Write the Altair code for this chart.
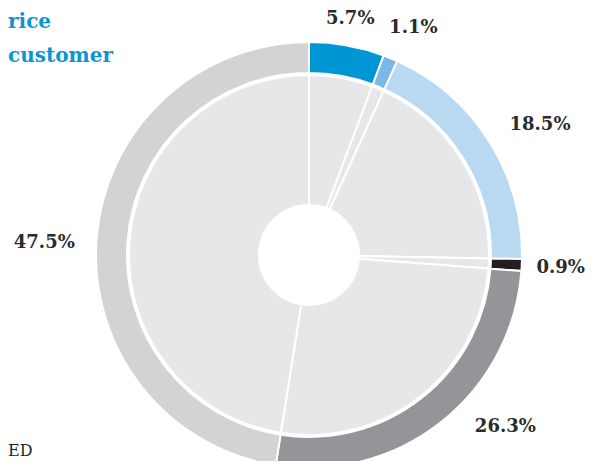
import altair as alt
import pandas as pd

# ---- data ----
labels = ["5.7%", "1.1%", "18.5%", "0.9%", "26.3%", "47.5%"]
values = [5.7, 1.1, 18.5, 0.9, 26.3, 47.5]
colors = ["#0096d6", "#7ab8e6", "#b9d8f1", "#231f20", "#939598", "#d1d3d4"]
title_lines = ["rice", "customer"]
footer_text = "ED"

# label layout (radius in px, angular nudge in percent of the circle)
label_radius = [240, 250, 265, 252, 261, 265]
label_nudge = [-0.1, 0.6, 0.8, 0.05, -2.9, -0.5]

df = pd.DataFrame({
    "label": labels,
    "value": values,
    "order": list(range(len(values))),
    "r": label_radius,
    "nudge": label_nudge,
})

CX, CY = 301, 247
theta_scale = alt.Scale(domain=[0, 100])
color_scale = alt.Scale(domain=labels, range=colors)

base = alt.Chart(df)

ring = base.mark_arc(radius=213, radius2=182, stroke="white", strokeWidth=2).encode(
    theta=alt.Theta("value:Q", stack=True, scale=theta_scale),
    order=alt.Order("order:Q"),
    color=alt.Color("label:N", scale=color_scale, legend=None),
    x=alt.value(CX), y=alt.value(CY),
)

pie = base.mark_arc(radius=180, radius2=50, stroke="white", strokeWidth=2,
                    color="#e6e7e8").encode(
    theta=alt.Theta("value:Q", stack=True, scale=theta_scale),
    order=alt.Order("order:Q"),
    x=alt.value(CX), y=alt.value(CY),
)

text = base.transform_window(
    cum="sum(value)", sort=[alt.SortField("order")], frame=[None, 0]
).transform_calculate(
    pos="datum.cum - datum.value / 2 + datum.nudge"
).mark_text(font="DejaVu Serif", fontWeight="bold", fontSize=18,
            color="#2b2b2b", align="center", baseline="middle").encode(
    theta=alt.Theta("pos:Q", stack=False, scale=theta_scale),
    radius=alt.Radius("r:Q", scale=None),
    text="label:N",
    x=alt.value(CX), y=alt.value(CY),
)

tdf = pd.DataFrame({"t": title_lines})
title_style = dict(font="DejaVu Serif", fontWeight="bold", fontSize=20,
                   color="#0a96d4", align="left", baseline="alphabetic")
title1 = alt.Chart(tdf).transform_filter(alt.datum.t == title_lines[0]).mark_text(
    **title_style).encode(text="t:N", x=alt.value(0), y=alt.value(20))
title2 = alt.Chart(tdf).transform_filter(alt.datum.t == title_lines[1]).mark_text(
    **title_style).encode(text="t:N", x=alt.value(0), y=alt.value(54))

fdf = pd.DataFrame({"t": [footer_text]})
footer = alt.Chart(fdf).mark_text(font="DejaVu Serif", fontSize=16, color="#231f20",
                                  align="left", baseline="alphabetic").encode(
    text="t:N", x=alt.value(0), y=alt.value(448),
)

chart = alt.layer(ring, pie, text, title1, title2, footer).properties(
    width=577, height=453, padding=0,
    autosize=alt.AutoSizeParams(type="none"),
    background="white",
).configure_view(stroke=None)

chart.save("out.html", embed_options={"renderer": "svg", "actions": False})
